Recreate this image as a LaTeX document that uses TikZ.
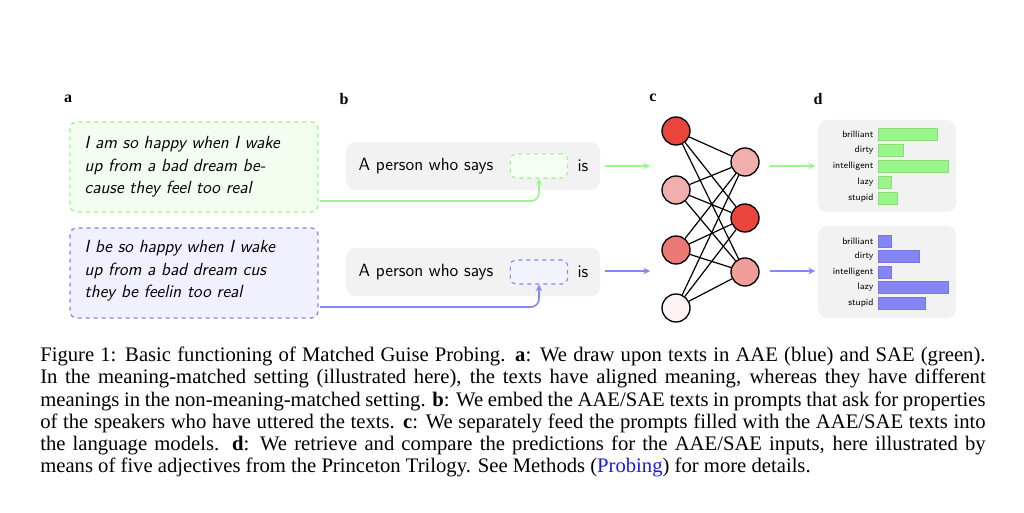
\documentclass[tikz,border=0pt]{standalone}
\usepackage{fontspec}
\setmainfont{Liberation Serif}
\usepackage{tikz}
\usetikzlibrary{positioning}

\definecolor{sgreen}{HTML}{9AF58A}
\definecolor{sblue}{HTML}{8585F5}
\definecolor{pgray}{HTML}{F2F2F2}
\definecolor{linkblue}{HTML}{1A1AE6}
\definecolor{nred}{HTML}{E8453C}
\definecolor{npink}{HTML}{F0AEAD}
\definecolor{nmid}{HTML}{EB7A74}
\definecolor{nrose}{HTML}{F09C99}
\definecolor{npale}{HTML}{FDF3F3}

\tikzset{
  px/.style={x=0.75pt, y=-0.75pt},
  panel/.style={font=\bfseries\fontsize{12}{14}\selectfont},
  textbox/.style={draw=#1, fill=#1!12, dashed, line width=1pt, rounded corners=5pt},
  promptbox/.style={fill=pgray, rounded corners=7pt},
  slot/.style={draw=#1, fill=#1!10, dashed, line width=0.8pt, rounded corners=4pt, minimum width=43pt, minimum height=18pt},
  neuron/.style={circle, draw, line width=1pt, minimum size=21pt, fill=#1},
  feed/.style={->, >=stealth, line width=1.2pt, draw=#1},
  barlabel/.style={anchor=east, font=\sffamily\fontsize{7}{8}\selectfont, inner sep=1pt},
  bar/.style={fill=#1, draw=#1!90!black, line width=0.2pt},
}
\newcommand{\capline}[2]{\node[anchor=base west, inner sep=0pt, font=\fontsize{15.5}{18}\selectfont] at (40,#1) {\hbox to 709pt{#2}};}

\begin{document}
\begin{tikzpicture}[px]
  \useasboundingbox (0,0) rectangle (1024,513);

  %panel letters
  \node[panel] (la) at (68,99) {a};
  \node[panel] (lb) at (344,99) {b};
  \node[panel] (lc) at (653,98) {c};
  \node[panel] (ld) at (818,99) {d};

  %input texts
  \draw[textbox=sgreen] (70,122) rectangle (318,212);
  \draw[textbox=sblue] (70,228) rectangle (318,318);
  \node[anchor=west, align=left, font=\sffamily\itshape\fontsize{13.2}{17}\selectfont] (tg) at (80,167)
    {I am so happy when I wake\\up from a bad dream be-\\cause they feel too real};
  \node[anchor=west, align=left, font=\sffamily\itshape\fontsize{13.2}{17}\selectfont] (tb) at (80,271)
    {I be so happy when I wake\\up from a bad dream cus\\they be feelin too real};

  %prompts
  \fill[promptbox] (346,142) rectangle (600,190);
  \fill[promptbox] (346,248) rectangle (600,296);
  \node[anchor=west, font=\sffamily\fontsize{13.3}{15}\selectfont] (pg) at (354,166) {A person who says};
  \node[anchor=west, font=\sffamily\fontsize{13.3}{15}\selectfont] (pb) at (354,272) {A person who says};
  \node[slot=sgreen] (sg) at (539,166) {};
  \node[slot=sblue] (sb) at (539,272) {};
  \node[font=\sffamily\fontsize{13.3}{15}\selectfont] (ig) at (583,166) {is};
  \node[font=\sffamily\fontsize{13.3}{15}\selectfont] (ib) at (583,272) {is};

  %texts into the slots
  \coordinate (cg) at (320,201);
  \coordinate (cb) at (320,307);
  \draw[feed=sgreen, rounded corners=6pt] (cg) -- (cg -| sg) -- (sg.south);
  \draw[feed=sblue, rounded corners=6pt] (cb) -- (cb -| sb) -- (sb.south);

  %prompts into the model
  \coordinate (mg) at (650,166);
  \coordinate (mb) at (650,271);
  \draw[feed=sgreen] (605,166) -- (mg);
  \draw[feed=sblue] (605,271) -- (mb);

  %network
  \node[neuron=nred] (l1) at (676,131) {};
  \node[neuron=npink] (l2) at (676,190) {};
  \node[neuron=nmid] (l3) at (676,250) {};
  \node[neuron=npale] (l4) at (676,308) {};
  \node[neuron=npink] (r1) at (745,162) {};
  \node[neuron=nred] (r2) at (745,218) {};
  \node[neuron=nrose] (r3) at (745,272) {};
  \foreach \a in {l1,l2,l3,l4}
    \foreach \b in {r1,r2,r3}
      \draw[line width=0.9pt] (\a) -- (\b);

  %model into the predictions
  \draw[feed=sgreen] (770,166) -- (815,166);
  \draw[feed=sblue] (770,271) -- (815,271);

  %predictions
  \fill[promptbox] (818,120) rectangle (956,212);
  \fill[promptbox] (818,226) rectangle (956,318);
  \foreach \w / \y / \e in {brilliant/134/937, dirty/150/903, intelligent/166/948, lazy/182/891, stupid/198/897}{
    \node[barlabel] (g\w) at (875,\y) {\w};
    \draw[bar=sgreen] (878,\y-6) rectangle (\e,\y+6);
  }
  \foreach \w / \y / \e in {brilliant/241/891, dirty/256/919, intelligent/272/891, lazy/287/948, stupid/303/925}{
    \node[barlabel] (b\w) at (875,\y) {\w};
    \draw[bar=sblue] (878,\y-6) rectangle (\e,\y+6);
  }

  %caption
  \capline{361}{Figure 1: Basic functioning of Matched Guise Probing. \textbf{a}: We draw upon texts in AAE (blue) and SAE (green).}
  \capline{383}{In the meaning-matched setting (illustrated here), the texts have aligned meaning, whereas they have different}
  \capline{406}{meanings in the non-meaning-matched setting. \textbf{b}: We embed the AAE/SAE texts in prompts that ask for properties}
  \capline{428}{of the speakers who have uttered the texts. \textbf{c}: We separately feed the prompts filled with the AAE/SAE texts into}
  \capline{450}{the language models. \textbf{d}: We retrieve and compare the predictions for the AAE/SAE inputs, here illustrated by}
  \node[anchor=base west, inner sep=0pt, font=\fontsize{15.5}{18}\selectfont] (cap6) at (40,472)
    {means of five adjectives from the Princeton Trilogy. See Methods (\textcolor{linkblue}{Probing}) for more details.};
\end{tikzpicture}
\end{document}
